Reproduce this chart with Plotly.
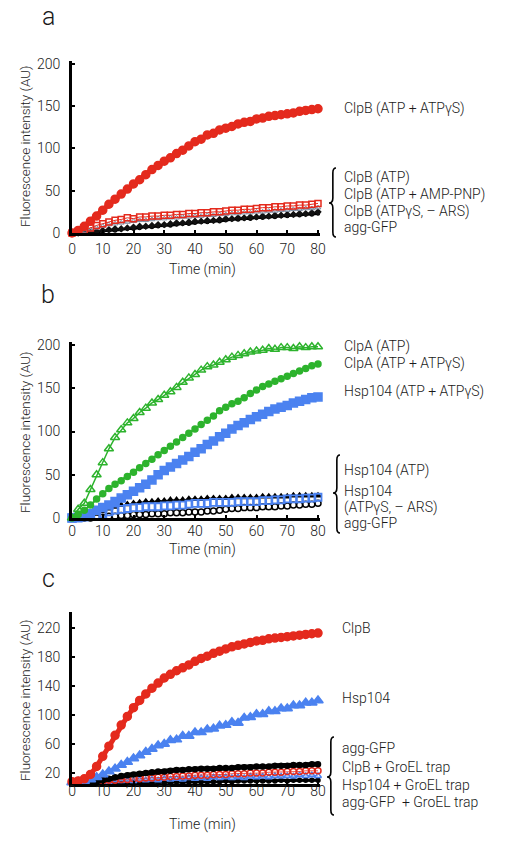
import plotly.graph_objects as go

W, H = 510, 842
FONT = "Roboto"
WEIGHT = 300
TXT = "#1a1a1a"
RED = "#e42a1d"
GREEN = "#2db32d"
BLUE = "#4b82f0"
GREY = "#7c8aa0"

time = list(range(0, 81, 2))
x_ticks = [0, 10, 20, 30, 40, 50, 60, 70, 80]
y_ticks_ab = [0, 50, 100, 150, 200]
y_ticks_c = [20, 60, 100, 140, 180, 220]

# ---------------- panel a ----------------
a_clpb_atp_atpgs = [0, 3, 8, 14, 20, 27, 34, 40, 46, 52, 58, 63, 69, 75, 80, 85, 89, 94, 98, 103,
                    108, 111, 116, 118, 122, 124, 126, 129, 131, 132, 135, 136, 138, 139, 140, 141, 142, 144, 145, 146, 147]
a_clpb_atp = [0, 1, 3, 6, 9, 11, 13, 15, 16, 18, 17, 19, 19, 20, 20, 21, 21, 22, 22, 23, 23, 24, 24, 25, 25,
              26, 27, 27, 28, 28, 29, 30, 30, 31, 31, 32, 32, 33, 33, 34, 35]
a_clpb_amppnp = [0, 1, 2, 4, 6, 8, 10, 11, 12, 13, 14, 15, 15, 16, 17, 17, 18, 18, 19, 19, 20, 20, 21, 21, 22,
                 22, 23, 23, 24, 24, 25, 25, 26, 26, 27, 27, 28, 28, 29, 29, 30]
a_clpb_atpgs_ars = [0, 0, 1, 1, 2, 3, 4, 5, 5, 6, 7, 8, 8, 9, 10, 10, 11, 12, 12, 13, 14, 14, 15, 15, 16,
                    17, 17, 18, 18, 19, 19, 20, 20, 21, 21, 22, 22, 23, 23, 24, 25]
a_agg_gfp = [0, 0, 0, 1, 1, 2, 3, 3, 4, 5, 5, 6, 7, 7, 8, 9, 9, 10, 11, 11, 12, 13, 13, 14, 14,
             15, 16, 16, 17, 17, 18, 18, 19, 19, 20, 20, 21, 21, 22, 22, 23]

# ---------------- panel b ----------------
b_clpa_atp = [0, 10, 17, 33, 50, 64, 80, 93, 102, 110, 115, 122, 127, 133, 137, 142, 146, 151, 157, 162,
              166, 171, 175, 177, 180, 183, 186, 188, 190, 192, 193, 194, 196, 195, 197, 197, 196, 198, 197, 198, 198]
b_clpa_atp_atpgs = [0, 4, 9, 15, 22, 28, 34, 39, 43, 48, 53, 58, 63, 68, 73, 78, 83, 88, 93, 98,
                    103, 108, 113, 118, 124, 128, 132, 135, 139, 144, 148, 152, 155, 158, 161, 164, 167, 170, 173, 176, 178]
b_hsp104_atp_atpgs = [0, 1, 2, 5, 9, 12, 15, 19, 23, 27, 31, 35, 39, 44, 50, 55, 59, 63, 67, 71,
                      76, 80, 85, 89, 94, 98, 103, 107, 110, 114, 117, 120, 123, 126, 128, 130, 133, 135, 137, 139, 140]
b_hsp104_atp = [0, 0, 1, 2, 3, 5, 7, 9, 10, 11, 12, 12, 13, 13, 13, 14, 14, 15, 15, 16, 17, 17, 17, 18, 18,
                18, 18, 19, 19, 19, 19, 20, 20, 21, 21, 22, 22, 22, 23, 23, 24]
b_hsp104_atpgs_ars = [0, 1, 2, 3, 5, 8, 11, 13, 15, 16, 17, 18, 19, 19, 20, 20, 21, 21, 21, 22, 22,
                      22, 23, 23, 23, 23, 24, 24, 24, 24, 24, 25, 25, 25, 25, 25, 26, 26, 26, 26, 26]
b_agg_gfp = [0, 0, 0, 0, 1, 1, 2, 2, 3, 3, 4, 4, 4, 5, 5, 5, 6, 6, 6, 7, 7, 7, 8, 8, 9,
             10, 11, 11, 12, 12, 12, 13, 13, 13, 14, 14, 15, 15, 16, 16, 17]

# ---------------- panel c ----------------
c_clpb = [8, 9, 12, 18, 29, 43, 57, 72, 86, 98, 110, 120, 129, 137, 144, 151, 156, 161, 165, 169,
          174, 178, 181, 185, 188, 191, 194, 196, 198, 200, 202, 203, 205, 206, 207, 208, 209, 210, 211, 212, 213]
c_hsp104 = [7, 8, 9, 11, 14, 18, 22, 26, 31, 35, 40, 44, 49, 53, 58, 60, 65, 66, 71, 71, 76, 76, 80, 81,
            85, 86, 90, 89, 96, 97, 101, 101, 105, 105, 109, 109, 113, 113, 117, 117, 120]
c_agg_gfp = [6, 6, 7, 7, 8, 10, 12, 14, 16, 17, 18, 19, 20, 21, 22, 22, 23, 24, 24, 25, 25, 26, 26, 26, 27,
             27, 27, 28, 28, 28, 29, 29, 29, 30, 30, 30, 31, 31, 31, 32, 32]
c_clpb_groel = [7, 7, 8, 8, 9, 9, 10, 10, 11, 11, 12, 12, 13, 13, 14, 14, 15, 15, 16, 16, 17, 17, 17, 18, 18,
                18, 19, 19, 19, 20, 20, 20, 21, 21, 21, 22, 22, 22, 23, 23, 23]
c_hsp104_groel = [7, 8, 7, 9, 8, 9, 8, 10, 9, 10, 9, 11, 10, 11, 10, 12, 11, 12, 11, 13, 12, 13, 12, 14, 13,
                  14, 13, 14, 13, 15, 14, 15, 14, 16, 15, 16, 15, 17, 16, 17, 16]
c_agg_gfp_groel = [5, 5, 5, 6, 5, 6, 6, 6, 6, 6, 7, 6, 7, 7, 7, 7, 7, 8, 7, 8, 8, 8, 8, 8, 8,
                   9, 8, 9, 9, 9, 9, 9, 9, 9, 10, 9, 10, 10, 10, 10, 10]

labels_a_top = ["ClpB (ATP + ATPγS)"]
labels_a_group = ["ClpB (ATP)", "ClpB (ATP + AMP-PNP)", "ClpB (ATPγS, – ARS)", "agg-GFP"]
labels_b_top = ["ClpA (ATP)", "ClpA (ATP + ATPγS)", "Hsp104 (ATP + ATPγS)"]
labels_b_group = ["Hsp104 (ATP)", "Hsp104", "(ATPγS, – ARS)", "agg-GFP"]
labels_c_top = ["ClpB", "Hsp104"]
labels_c_group = ["agg-GFP", "ClpB + GroEL trap", "Hsp104 + GroEL trap", "agg-GFP  + GroEL trap"]


def px(x):
    return x / W


def py(y):
    return 1 - y / H


fig = go.Figure()


def add(xa, ya, y, color, symbol, size, lw=0, mode="lines+markers", mlw=1.5):
    fig.add_trace(go.Scatter(
        x=time, y=y, xaxis=xa, yaxis=ya, mode=mode, cliponaxis=False,
        line=dict(color=color, width=lw),
        marker=dict(symbol=symbol, size=size, color=color, line=dict(color=color, width=mlw)),
        showlegend=False, hoverinfo="skip"))


# panel a
add("x", "y", a_agg_gfp, "black", "circle", 3, lw=2.5)
add("x", "y", a_clpb_atpgs_ars, "#111111", "diamond", 4, lw=1)
add("x", "y", a_clpb_amppnp, GREY, "triangle-up-open", 5, lw=0.8, mlw=1)
add("x", "y", a_clpb_atp, RED, "square-open", 6, lw=1, mlw=1.5)
add("x", "y", a_clpb_atp_atpgs, RED, "circle", 8, lw=5)

# panel b
add("x2", "y2", b_agg_gfp, "black", "circle-open", 6, lw=0, mode="markers", mlw=1.5)
add("x2", "y2", b_hsp104_atpgs_ars, "black", "triangle-up", 5, lw=1)
add("x2", "y2", b_hsp104_atp, BLUE, "square-open", 7, lw=0, mode="markers", mlw=1.8)
add("x2", "y2", b_hsp104_atp_atpgs, BLUE, "square", 8, lw=2)
add("x2", "y2", b_clpa_atp_atpgs, GREEN, "circle", 6, lw=2)
add("x2", "y2", b_clpa_atp, GREEN, "triangle-up-open", 8, lw=1.5, mlw=1.5)

# panel c
add("x3", "y3", c_agg_gfp_groel, "black", "circle", 4, lw=3)
add("x3", "y3", c_hsp104_groel, BLUE, "triangle-up-open", 6, lw=0.8, mlw=1.5)
add("x3", "y3", c_clpb_groel, RED, "circle-open", 6, lw=0.8, mlw=1.5)
add("x3", "y3", c_agg_gfp, "black", "circle", 5, lw=5)
add("x3", "y3", c_hsp104, BLUE, "triangle-up", 9, lw=3)
add("x3", "y3", c_clpb, RED, "circle", 8, lw=5)

tickfont = dict(family=FONT, size=14, color=TXT, weight=WEIGHT)
xbase = dict(domain=[px(72), px(320)], range=[0, 80.65], tickvals=x_ticks, showline=True,
             linewidth=3, linecolor="black", ticks="inside", ticklen=3, tickwidth=2,
             tickcolor="black", showgrid=False, zeroline=False, tickfont=tickfont,
             automargin=False)
ybase = dict(showline=True, linewidth=3, linecolor="black", ticks="inside", ticklen=3,
             tickwidth=2, tickcolor="black", showgrid=False, zeroline=False, tickfont=tickfont,
             ticklabelstandoff=6, automargin=False)

fig.update_layout(
    template="none",
    width=W, height=H, margin=dict(l=0, r=0, t=0, b=0, pad=0),
    paper_bgcolor="white", plot_bgcolor="white", showlegend=False,
    xaxis=dict(**xbase, anchor="y", ticklabelstandoff=1),
    yaxis=dict(**ybase, anchor="x", domain=[py(233), py(61)], range=[0, 203.5], tickvals=y_ticks_ab),
    xaxis2=dict(**xbase, anchor="y2", ticklabelstandoff=-2),
    yaxis2=dict(**ybase, anchor="x2", domain=[py(518), py(342)], range=[0, 203.5], tickvals=y_ticks_ab),
    xaxis3=dict(**xbase, anchor="y3", ticklabelstandoff=-8),
    yaxis3=dict(**ybase, anchor="x3", domain=[py(784), py(612)], range=[4.8, 242], tickvals=y_ticks_c),
)

ann = []


def text(x, y, s, size=14, xanchor="left", angle=0):
    ann.append(dict(x=px(x), y=py(y), xref="paper", yref="paper", text=s, showarrow=False,
                    xanchor=xanchor, yanchor="middle", textangle=angle,
                    font=dict(family=FONT, size=size, color=TXT, weight=WEIGHT)))


# panel letters
text(48, 17, "a", size=25, xanchor="center")
text(48, 295, "b", size=25, xanchor="center")
text(48, 578, "c", size=25, xanchor="center")

# axis titles
for yc in (146, 432, 700):
    text(25, yc, "Fluorescence intensity (AU)", size=13.5, xanchor="center", angle=-90)
for yc in (270, 549, 824):
    text(202, yc, "Time (min)", size=14, xanchor="center")

# right-hand labels
text(342, 109, labels_a_top[0])
for s, yy in zip(labels_a_group, (177, 194, 211, 227)):
    text(342, yy, s)
for s, yy in zip(labels_b_top, (347, 363, 391)):
    text(342, yy, s)
for s, yy in zip(labels_b_group, (470, 491, 507, 523)):
    text(342, yy, s)
for s, yy in zip(labels_c_top, (628, 698)):
    text(340, yy, s)
for s, yy in zip(labels_c_group, (748, 767, 785, 802)):
    text(340, yy, s)

fig.update_layout(annotations=ann)


def brace(xt, y1, y2, ym, w=7):
    xs = xt + w * 0.55
    xe = xt + w
    pts = [
        f"M{px(xe)},{py(y1)}",
        f"Q{px(xs)},{py(y1)} {px(xs)},{py(y1 + 5)}",
        f"L{px(xs)},{py(ym - 5)}",
        f"Q{px(xs)},{py(ym)} {px(xt)},{py(ym)}",
        f"Q{px(xs)},{py(ym)} {px(xs)},{py(ym + 5)}",
        f"L{px(xs)},{py(y2 - 5)}",
        f"Q{px(xs)},{py(y2)} {px(xe)},{py(y2)}",
    ]
    return dict(type="path", xref="paper", yref="paper", path=" ".join(pts),
                line=dict(color="black", width=1.6))


fig.update_layout(shapes=[
    brace(329, 168, 237, 203),
    brace(333, 455, 533, 493),
    brace(327, 737, 815, 777),
])

fig.write_html("out.html", config={"displayModeBar": False},
               post_script="document.body.style.margin='0';")
